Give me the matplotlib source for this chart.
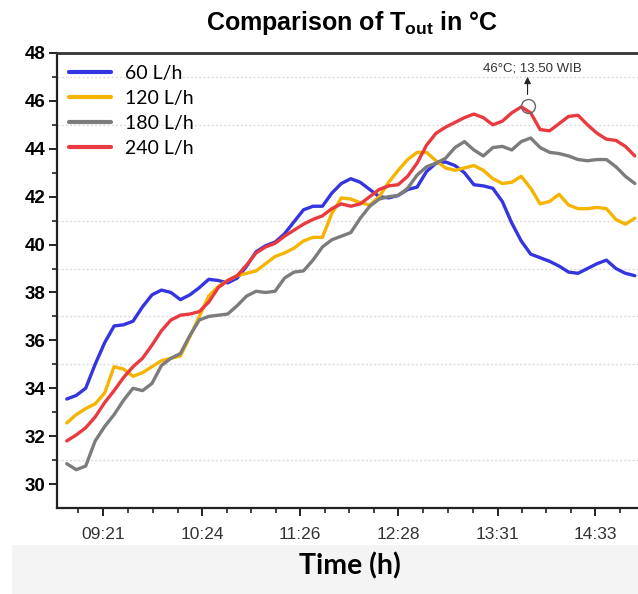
import numpy as np
import pandas as pd
import matplotlib
matplotlib.use("Agg")
import matplotlib.pyplot as plt
from matplotlib.patches import Rectangle

plt.rcParams["font.family"] = ["Liberation Sans", "DejaVu Sans"]
plt.rcParams["mathtext.fontset"] = "custom"
plt.rcParams["mathtext.rm"] = "Liberation Sans"
plt.rcParams["mathtext.bf"] = "Liberation Sans:bold"

# logger samples every 6 minutes from 08:58
start_time = "08:58"
n_samples = 61

flow_60 = [33.55, 33.7, 34.0, 35.0, 35.9, 36.6, 36.65, 36.8, 37.4, 37.9,
           38.1, 38.0, 37.7, 37.9, 38.2, 38.55, 38.5, 38.4, 38.6, 39.1,
           39.7, 39.95, 40.1, 40.45, 40.95, 41.45, 41.6, 41.6, 42.15, 42.55,
           42.75, 42.6, 42.3, 42.0, 41.95, 42.05, 42.3, 42.4, 43.05, 43.4,
           43.45, 43.3, 43.0, 42.5, 42.45, 42.35, 41.8, 40.9, 40.15, 39.6,
           39.45, 39.3, 39.1, 38.85, 38.8, 39.0, 39.2, 39.35, 39.0, 38.8,
           38.7]
flow_120 = [32.55, 32.9, 33.15, 33.35, 33.8, 34.9, 34.8, 34.5, 34.65, 34.9,
            35.15, 35.25, 35.35, 36.15, 37.0, 37.85, 38.25, 38.5, 38.7, 38.8,
            38.9, 39.2, 39.5, 39.65, 39.85, 40.15, 40.3, 40.3, 41.3, 41.95,
            41.9, 41.75, 41.65, 42.0, 42.6, 43.1, 43.55, 43.85, 43.85, 43.5,
            43.2, 43.1, 43.2, 43.3, 43.1, 42.75, 42.55, 42.6, 42.85, 42.35,
            41.7, 41.8, 42.1, 41.65, 41.5, 41.5, 41.55, 41.5, 41.05, 40.85,
            41.1]
flow_180 = [30.85, 30.6, 30.75, 31.8, 32.4, 32.9, 33.5, 34.0, 33.9, 34.2,
            34.95, 35.25, 35.45, 36.2, 36.85, 37.0, 37.05, 37.1, 37.45, 37.85,
            38.05, 38.0, 38.05, 38.6, 38.85, 38.9, 39.35, 39.9, 40.2, 40.35,
            40.5, 41.1, 41.6, 41.9, 42.0, 42.05, 42.35, 42.9, 43.25, 43.4,
            43.6, 44.05, 44.3, 43.95, 43.7, 44.05, 44.1, 43.95, 44.3, 44.45,
            44.05, 43.85, 43.8, 43.7, 43.55, 43.5, 43.55, 43.55, 43.25, 42.85,
            42.55]
flow_240 = [31.8, 32.05, 32.35, 32.8, 33.4, 33.9, 34.45, 34.9, 35.25, 35.8,
            36.4, 36.85, 37.05, 37.1, 37.2, 37.6, 38.2, 38.5, 38.7, 39.15,
            39.65, 39.9, 40.05, 40.35, 40.6, 40.85, 41.05, 41.2, 41.5, 41.7,
            41.6, 41.7, 42.0, 42.3, 42.45, 42.5, 42.85, 43.4, 44.15, 44.65,
            44.9, 45.1, 45.3, 45.45, 45.3, 45.0, 45.15, 45.5, 45.75, 45.5,
            44.8, 44.75, 45.05, 45.35, 45.4, 45.0, 44.65, 44.4, 44.35, 44.1,
            43.7]

labels = ["60 L/h", "120 L/h", "180 L/h", "240 L/h"]
colors = ["#3434e0", "#f4b400", "#7c7c7c", "#e93a3f"]
tick_labels = ["09:21", "10:24", "11:26", "12:28", "13:31", "14:33"]

peak_time = "13:50"
peak_temp = 45.8


def to_minutes(hhmm):
    h, m = hhmm.split(":")
    return int(h) * 60 + int(m)


times = pd.date_range(start_time, periods=n_samples, freq="6min")
x = (times.hour * 60 + times.minute).to_numpy()
major = np.array([to_minutes(t) for t in tick_labels], dtype=float)
step = np.diff(major).mean() / 4
minor = np.concatenate([np.linspace(a, b, 5)[1:-1] for a, b in zip(major[:-1], major[1:])])
minor = np.concatenate([[major[0] - step], minor, [major[-1] + step]])

fig = plt.figure(figsize=(6.38, 5.94), dpi=100)
ax = fig.add_axes([0.0893, 0.1448, 0.9107, 0.766])

for y_val in [31, 35, 37, 39, 41, 45, 47]:
    ax.axhline(y_val, color="#dcdcdc", lw=1.0, ls=(0, (1.5, 1.5)), zorder=0)

for series, label, color in zip([flow_60, flow_120, flow_180, flow_240], labels, colors):
    ax.plot(x, series, color=color, lw=2.4, label=label,
            solid_joinstyle="round", solid_capstyle="round", zorder=3)

# peak marker with arrow and note
px = to_minutes(peak_time)
ax.plot(px, peak_temp, "o", ms=10, mfc="none", mec="#666666", mew=1.0, zorder=4)
ax.annotate("", xy=(px, 47.12), xytext=(px, 46.15),
            arrowprops=dict(arrowstyle="-|>", color="#222222", lw=0.8,
                            mutation_scale=10), zorder=5)
ax.text(px + 3, 47.36, f"{peak_temp:.0f}°C; {peak_time.replace(':', '.')} WIB",
        ha="center", va="center", fontsize=9.5, color="#333333")

ax.set_xlim(531.8, 900)
ax.set_ylim(29, 48)
ax.set_xticks(major)
ax.set_xticklabels(tick_labels)
ax.set_xticks(minor, minor=True)
ax.set_yticks(np.arange(30, 49, 2))
ax.set_yticks(np.arange(31, 48, 2), minor=True)

ax.tick_params(axis="both", which="major", direction="out", length=6, width=1.4, color="#222222")
ax.tick_params(axis="both", which="minor", direction="out", length=3.5, width=1.2, color="#222222")
ax.tick_params(axis="x", labelsize=12.5, labelcolor="#333333", pad=8)
ax.tick_params(axis="y", labelsize=13.5, pad=2)
for lab in ax.get_yticklabels():
    lab.set_fontweight("bold")

ax.spines["right"].set_visible(False)
ax.spines["left"].set_linewidth(1.6)
ax.spines["bottom"].set_linewidth(1.6)
ax.spines["top"].set_linewidth(2.0)
ax.spines["top"].set_color("#333333")
for s in ["left", "bottom"]:
    ax.spines[s].set_color("#222222")

leg = ax.legend(loc="upper left", frameon=False, handlelength=2.2,
                handletextpad=0.7, labelspacing=0.42, borderaxespad=0.2,
                prop={"family": "Lato", "size": 14})
for line in leg.get_lines():
    line.set_linewidth(3)

fig.text(0.552, 0.962, r"Comparison of T$_\mathbf{out}$ in °C", ha="center", va="center",
         fontsize=18, fontweight="bold")

fig.patches.append(Rectangle((0.019, 0), 0.981, 0.0825, transform=fig.transFigure,
                             facecolor="#f4f4f4", edgecolor="none", zorder=0))
fig.text(0.549, 0.047, "Time (h)", ha="center", va="center", fontsize=20.5,
         fontweight="bold", family="Lato")

fig.savefig("out.png", dpi=100)
